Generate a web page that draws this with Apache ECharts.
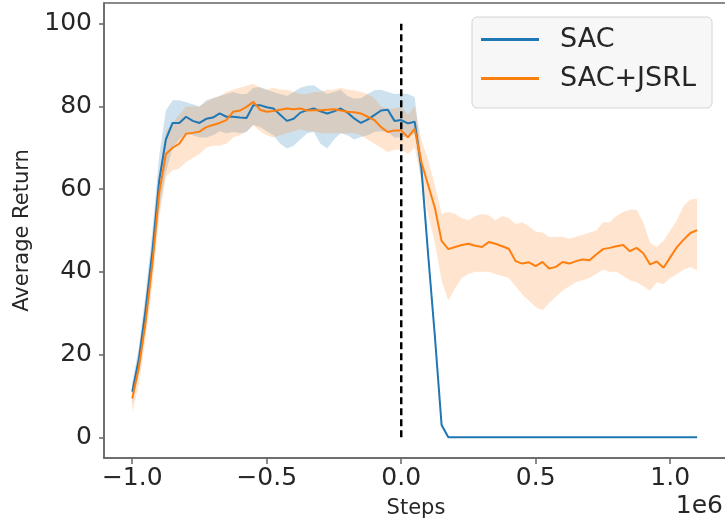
<!DOCTYPE html>
<html><head><meta charset="utf-8">
<script src="https://cdn.jsdelivr.net/npm/echarts@6/dist/echarts.min.js"></script>
<style>html,body{margin:0;padding:0;background:#fff}#c{width:725px;height:527px}</style>
</head><body><div id="c"></div>
<script>
// Steps in units of 1e6
const steps = [-1.0,-0.975,-0.95,-0.925,-0.9,-0.875,-0.85,-0.825,-0.8,-0.775,-0.75,-0.725,-0.7,-0.675,-0.65,-0.625,-0.6,-0.575,-0.55,-0.525,-0.5,-0.475,-0.45,-0.425,-0.4,-0.375,-0.35,-0.325,-0.3,-0.275,-0.25,-0.225,-0.2,-0.175,-0.15,-0.125,-0.1,-0.075,-0.05,-0.025,0.0,0.025,0.05,0.075,0.1,0.125,0.15,0.175,0.2,0.225,0.25,0.275,0.3,0.325,0.35,0.375,0.4,0.425,0.45,0.475,0.5,0.525,0.55,0.575,0.6,0.625,0.65,0.675,0.7,0.725,0.75,0.775,0.8,0.825,0.85,0.875,0.9,0.925,0.95,0.975,1.0,1.025,1.05,1.075,1.1];

const sacMean = [11,19,31,45,62,72,76,76,77.5,76.5,76,77,77.3,78.3,77.5,77.5,77.3,77.2,80.3,80.3,79.8,79.5,78,76.5,77,78.5,79.1,79.5,78.8,78.3,78.8,79.5,78.5,77.1,76,76.8,77.9,79,79.2,76.5,76.7,75.9,76.3,65,44.2,24.5,3,
  0,0,0,0,0,0,0,0,0,0,0,0,0,0,0,0,0,0,0,0,0,0,0,0,0,0,0,0,0,0,0,0,0,0,0,0,0,0];
const sacHigh = [13,22,35,50,68,79,81.5,81.5,81,80.5,80,81.5,82,82.5,83,83.5,83,83,84.5,84.7,84,83.5,83,82.5,83.5,84.5,85,85.1,84,83,83.5,84,82.5,81.9,82,83,83.9,84,83.5,83,83.1,83,82.3,68,46,25.5,3.5,
  0,0,0,0,0,0,0,0,0,0,0,0,0,0,0,0,0,0,0,0,0,0,0,0,0,0,0,0,0,0,0,0,0,0,0,0,0,0];
const sacLow = [8,16,28,41,55,64,70,72,73.5,73,72.5,72.5,73,74,73.5,73.8,73.5,73.8,75.5,75,74,73,71,69.8,70.5,72,73.5,73.8,71,69.8,72,73.5,73,72,72.6,73,73.8,74,73.8,72.5,72.5,72.8,73.4,62,42.5,23.5,2.5,
  0,0,0,0,0,0,0,0,0,0,0,0,0,0,0,0,0,0,0,0,0,0,0,0,0,0,0,0,0,0,0,0,0,0,0,0,0,0];

const jsrlMean = [9.4,17,28,42,59,68.5,70,71,73.4,73.6,73.9,75,75.5,76,76.7,78.7,79,79.9,81.1,79.2,78.7,78.9,79.2,79.5,79.3,79.5,79,79.1,79.1,79.2,79.3,79,78.7,78.6,78.3,77.5,76.7,75,73.8,74.2,74.2,72.5,74.6,66.5,61,55.5,47.5,45.5,46,46.5,46.8,46.3,46,47.2,46.8,46.2,45.6,42.6,42,42.3,41.4,42.4,40.8,41.2,42.4,42,42.6,43,42.8,44.2,45.5,45.8,46.2,46.5,45,45.8,44.5,41.8,42.5,41,43.5,46,47.8,49.4,50.1];
const jsrlHigh = [12,21,33,47,64,74,76,78,80,80,80,81,82,82.5,83.5,84,84.5,85,85.5,84.5,84,84.5,84,84,83.5,83,83,83.5,83.5,84,84,84.5,84,83.9,83.5,83,82,80,79.5,79.5,80,78,80,72,67,61,54,54.5,54,53,52.5,53.5,54,53.7,52.5,53.5,53,51.5,52,51,49.7,49.5,48.4,48.5,48.5,48,48.5,49,49.5,50,52,52,53.5,54.5,55,55,52,47,46,47.5,50,52.5,56,57.5,57.7];
const jsrlLow = [6,13,24,37,53,63,64.5,65,66.5,67.5,68.5,70,70.5,70.5,71,72.5,73,74,75.5,74,73,72.5,73,73.5,74,74.5,74,74,73.5,73.5,73.5,73.5,73.5,73.5,73,72,71,70,69,69.5,69.5,68.5,70,62,54,47,38,33,36,38.5,39.5,40,40,40,39.5,39,38.5,36.5,34.5,33,31.5,30.7,32.5,34,35.5,36.5,37.5,38,38.5,39.5,40.5,40,40,39,38,37.5,36.5,35.5,37.5,37,38.5,39.5,40.5,41.2,40.4];

const dividerX = [0, 0];
const dividerY = [0, 100];

const xTicks = [-1.0, -0.5, 0.0, 0.5, 1.0];
const yTicks = [0, 20, 40, 60, 80, 100];
const seriesNames = ['SAC', 'SAC+JSRL'];

const FONT = 'DejaVu Sans';
const TXT = '#262626';
const AX = '#666666';

function pairs(ys) { return steps.map((x, i) => [x, ys[i]]); }
function bandSeries(name, lo, hi, fill) {
  return {
    type: 'custom', name: name, silent: true,
    data: steps.map((x, i) => [x, lo[i], hi[i]]),
    encode: { x: 0, y: [1, 2] },
    renderItem: function (params, api) {
      if (params.dataIndex !== 0) return;
      const pts = [];
      for (let i = 0; i < steps.length; i++) pts.push(api.coord([steps[i], hi[i]]));
      for (let i = steps.length - 1; i >= 0; i--) pts.push(api.coord([steps[i], lo[i]]));
      return { type: 'polygon', shape: { points: pts }, style: { fill: fill } };
    }
  };
}

const chart = echarts.init(document.getElementById('c'), null, { renderer: 'canvas' });
chart.setOption({
  animation: false,
  backgroundColor: '#ffffff',
  textStyle: { fontFamily: FONT },
  grid: { left: 104, top: 3, right: -3, bottom: 69, show: true, borderColor: AX, borderWidth: 1.5, containLabel: false, outerBoundsMode: 'none' },
  legend: {
    data: [{ name: seriesNames[0], icon: 'rect' }, { name: seriesNames[1], icon: 'rect' }],
    orient: 'vertical', left: 472, top: 17,
    itemWidth: 58, itemHeight: 3, itemGap: 12,
    padding: [9, 16, 16, 9],
    backgroundColor: 'rgba(246,246,246,0.92)', borderColor: '#d4d4d4', borderWidth: 1, borderRadius: 5,
    textStyle: { fontSize: 27, color: TXT, fontFamily: FONT, padding: [0, 0, 0, 16] }
  },
  xAxis: {
    type: 'value', min: -1.105, max: 1.2148,
    name: 'Steps', nameLocation: 'middle', nameGap: 40,
    nameTextStyle: { fontSize: 21, color: TXT, fontFamily: FONT },
    axisLine: { show: true, onZero: false, lineStyle: { color: AX, width: 1.5 } },
    axisTick: { show: true, length: 6, customValues: xTicks, lineStyle: { color: AX, width: 1.5 } },
    axisLabel: {
      customValues: xTicks, fontSize: 25, color: TXT, margin: 8, fontFamily: FONT,
      formatter: function (v) { return (v < 0 ? '\u2212' : '') + Math.abs(v).toFixed(1); }
    },
    splitLine: { show: false }
  },
  yAxis: {
    type: 'value', min: -5, max: 105,
    name: 'Average Return', nameLocation: 'middle', nameGap: 70, nameRotate: 90,
    nameTextStyle: { fontSize: 21, color: TXT, fontFamily: FONT },
    axisLine: { show: true, onZero: false, lineStyle: { color: AX, width: 1.5 } },
    axisTick: { show: true, length: 5, customValues: yTicks, lineStyle: { color: AX, width: 1.5 } },
    axisLabel: { customValues: yTicks, fontSize: 25, color: TXT, margin: 12, fontFamily: FONT },
    splitLine: { show: false }
  },
  graphic: [
    { type: 'text', right: 2, top: 494, style: { text: '1e6', font: '25px "DejaVu Sans"', fill: TXT } }
  ],
  series: [
    bandSeries('SAC band', sacLow, sacHigh, 'rgba(31,119,180,0.22)'),
    { type: 'line', name: seriesNames[0], data: pairs(sacMean), symbol: 'none', color: '#1f77b4', lineStyle: { width: 2, color: '#1f77b4' } },
    bandSeries('SAC+JSRL band', jsrlLow, jsrlHigh, 'rgba(255,127,14,0.2)'),
    { type: 'line', name: seriesNames[1], data: pairs(jsrlMean), symbol: 'none', color: '#ff7f0e', lineStyle: { width: 2, color: '#ff7f0e' } },
    { type: 'line', name: 'divider', data: dividerX.map((x, i) => [x, dividerY[i]]), symbol: 'none', silent: true,
      lineStyle: { color: '#000000', width: 2.5, type: [7, 4] } }
  ]
});
</script>
</body></html>
